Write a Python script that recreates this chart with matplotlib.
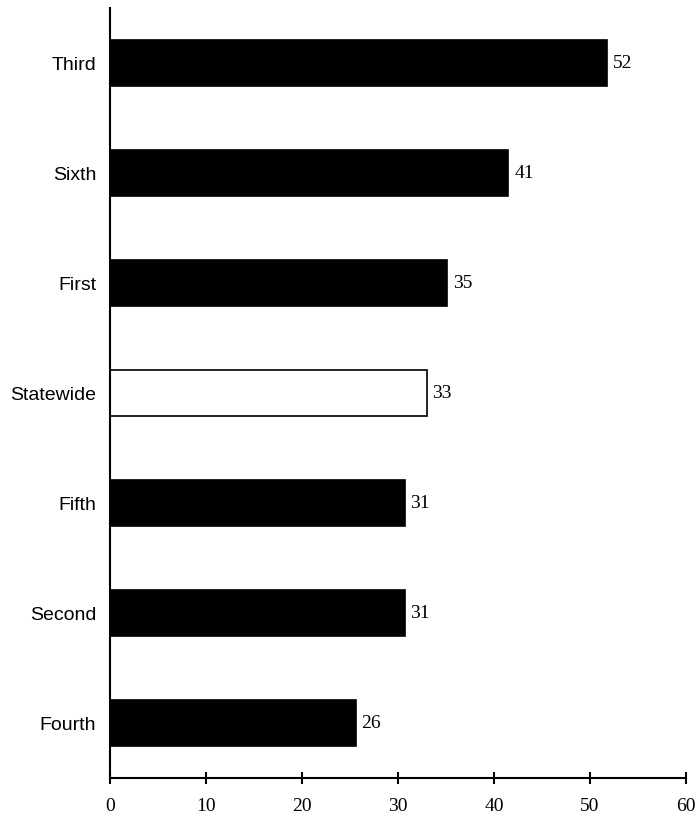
import matplotlib
matplotlib.use("Agg")
import matplotlib.pyplot as plt

categories = ["Fourth", "Second", "Fifth", "Statewide", "First", "Sixth", "Third"]
values = [25.6, 30.7, 30.7, 33.0, 35.1, 41.5, 51.8]
labels = ["26", "31", "31", "33", "35", "41", "52"]
colors = ["black", "black", "black", "white", "black", "black", "black"]
xticks = [0, 10, 20, 30, 40, 50, 60]

fig = plt.figure(figsize=(6.98, 8.18), dpi=100)
ax = fig.add_axes([110/698, 1 - 778/818, (686-110)/698, (778-8)/818])

ypos = list(range(len(categories)))
ax.barh(ypos, values, height=0.42, color=colors, edgecolor="black", linewidth=1.2)
for y, v, t in zip(ypos, values, labels):
    ax.text(v + 0.6, y, t, va="center", ha="left", fontsize=14, family="Liberation Serif")

ax.set_xlim(0, 60)
ax.set_ylim(-0.5, 6.5)
ax.set_xticks(xticks)
ax.set_xticklabels([str(x) for x in xticks], family="Liberation Serif", fontsize=14)
ax.set_yticks(ypos)
ax.set_yticklabels(categories, family="Liberation Sans", fontsize=14)
ax.tick_params(axis="y", length=0, pad=10)
ax.tick_params(axis="x", direction="inout", length=9, width=1.5, pad=10)
for s in ["top", "right"]:
    ax.spines[s].set_visible(False)
ax.spines["left"].set_linewidth(1.5)
ax.spines["bottom"].set_linewidth(1.5)

fig.savefig("out.png", dpi=100)
